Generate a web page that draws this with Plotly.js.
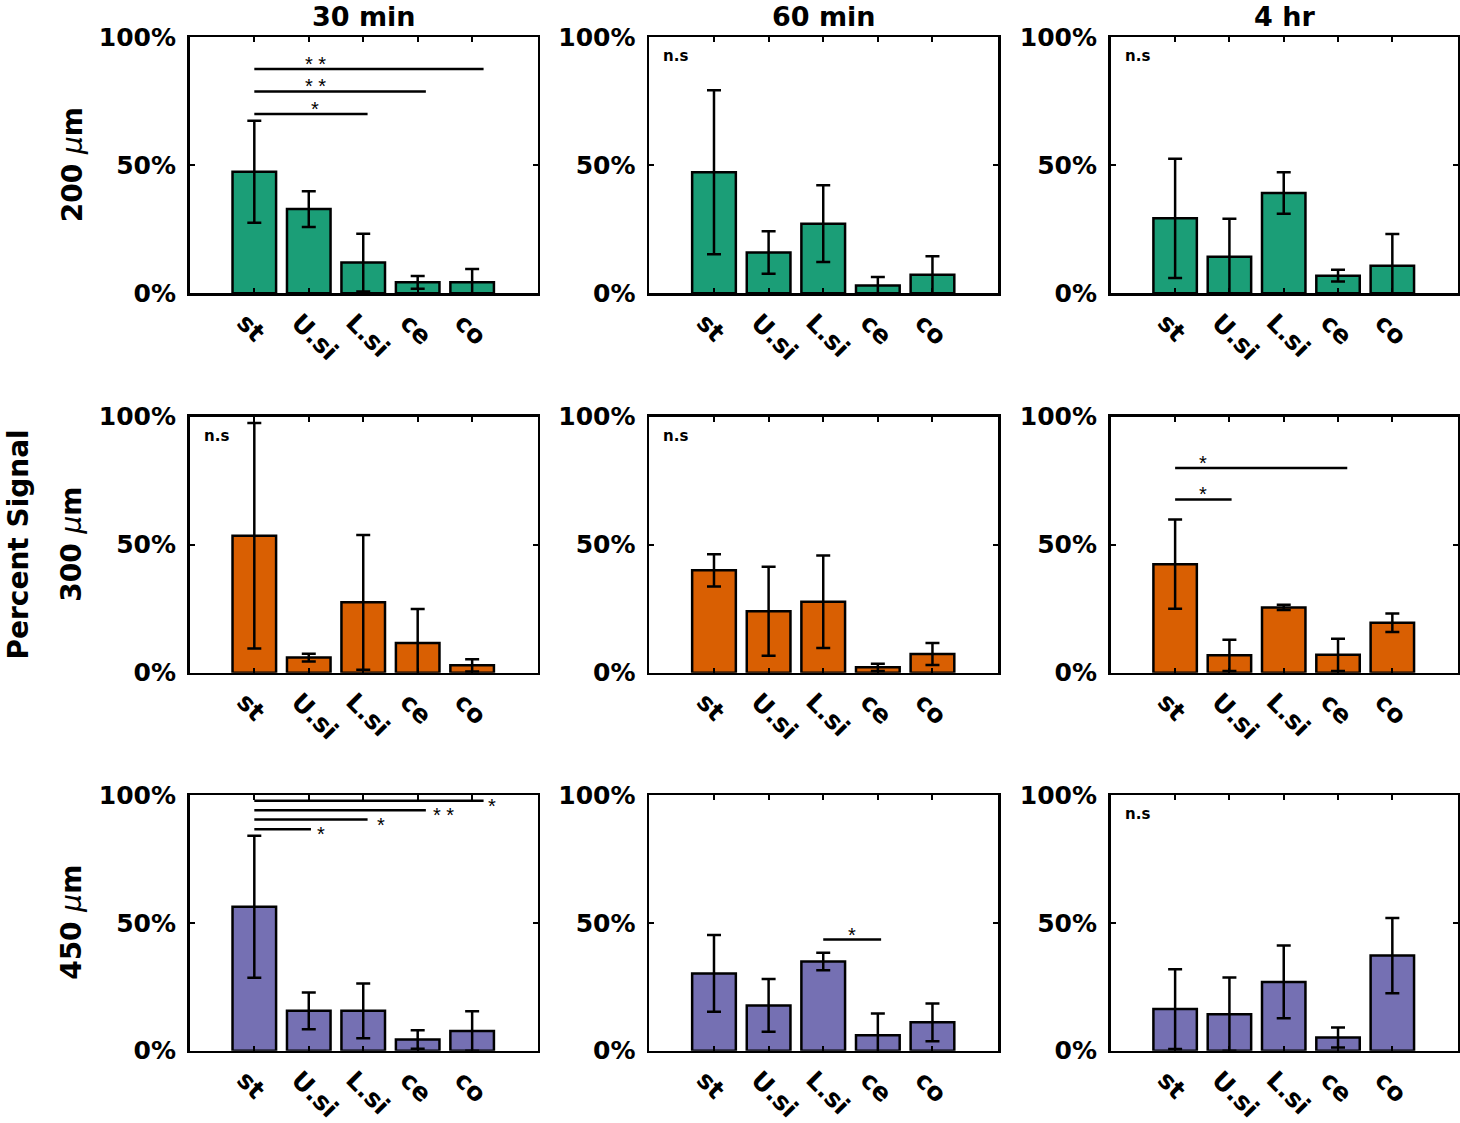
<!DOCTYPE html>
<html>
<head>
<meta charset="utf-8">
<script src="https://cdn.plot.ly/plotly-3.0.1.min.js"></script>
<style>html,body{margin:0;padding:0;background:#fff;}</style>
</head>
<body>
<div id="chart" style="width:1460px;height:1123px;"></div>
<script>
// ---------- data ----------
const categories = ['st', 'U.si', 'L.si', 'ce', 'co'];
const timeLabels = ['30 min', '60 min', '4 hr'];
const depthLabels = ['200', '300', '450'];
const yTickVals = [0, 50, 100];
const yTickText = ['0%', '50%', '100%'];

// 200 um
const mean_200_30 = [47.5, 32.9, 12.0, 4.3, 4.3];
const err_200_30  = [19.9, 7.0, 11.3, 2.5, 5.2];
const mean_200_60 = [47.3, 15.9, 27.2, 3.0, 7.2];
const err_200_60  = [32.0, 8.3, 15.0, 3.4, 7.3];
const mean_200_4h = [29.3, 14.3, 39.2, 6.9, 10.8];
const err_200_4h  = [23.3, 14.8, 8.1, 2.3, 12.4];
// 300 um
const mean_300_30 = [53.5, 5.9, 27.5, 11.6, 2.9];
const err_300_30  = [44.0, 1.5, 26.3, 13.3, 2.4];
const mean_300_60 = [40.0, 24.0, 27.7, 2.1, 7.3];
const err_300_60  = [6.3, 17.4, 18.1, 1.4, 4.3];
const mean_300_4h = [42.4, 6.8, 25.5, 7.0, 19.5];
const err_300_4h  = [17.4, 6.1, 1.0, 6.3, 3.6];
// 450 um
const mean_450_30 = [56.3, 15.6, 15.6, 4.4, 7.7];
const err_450_30  = [27.8, 7.2, 10.7, 3.6, 7.7];
const mean_450_60 = [30.2, 17.7, 34.9, 6.0, 11.1];
const err_450_60  = [15.0, 10.3, 3.4, 8.5, 7.4];
const mean_450_4h = [16.3, 14.3, 26.9, 5.2, 37.2];
const err_450_4h  = [15.6, 14.3, 14.2, 3.9, 14.7];

// significance brackets: [from category, to (end), level %, label, label x, label y]
const sig_200_30 = [[1, 5.21, 87.6, '* *', 2.12, 91.1], [1, 4.15, 78.8, '* *', 2.12, 82.4], [1, 3.08, 70.0, '*', 2.12, 73.6]];
const sig_300_4h = [[1, 4.17, 80.0, '*', 1.52, 83.3], [1, 2.04, 67.7, '*', 1.52, 71.5]];
const sig_450_30 = [[1, 5.21, 97.8, '*', 5.37, 97.4], [1, 4.15, 94.0, '* *', 4.47, 93.6], [1, 3.08, 90.4, '*', 3.33, 90.0], [1, 2.04, 86.6, '*', 2.22, 86.2]];
const sig_450_60 = [[3, 4.06, 43.5, '*', 3.52, 46.8]];

const panels = [
  {m: mean_200_30, e: err_200_30, sig: sig_200_30, ns: false},
  {m: mean_200_60, e: err_200_60, sig: [], ns: true},
  {m: mean_200_4h, e: err_200_4h, sig: [], ns: true},
  {m: mean_300_30, e: err_300_30, sig: [], ns: true},
  {m: mean_300_60, e: err_300_60, sig: [], ns: true},
  {m: mean_300_4h, e: err_300_4h, sig: sig_300_4h, ns: false},
  {m: mean_450_30, e: err_450_30, sig: sig_450_30, ns: false},
  {m: mean_450_60, e: err_450_60, sig: sig_450_60, ns: false},
  {m: mean_450_4h, e: err_450_4h, sig: [], ns: true}
];
const rowColors = ['#1b9e77', '#d95f02', '#7570b3'];

// ---------- layout ----------
const W = 1460, H = 1123;
const colPx = [[189.5, 537.5], [649, 998], [1110.5, 1457.5]];
const rowPx = [[37.3, 293.3], [416.7, 672.7], [795, 1050.7]];
const FONT = 'DejaVu Sans';

const data = [];
const layout = {
  width: W, height: H,
  margin: {l: 0, r: 0, t: 0, b: 0},
  paper_bgcolor: '#ffffff', plot_bgcolor: '#ffffff',
  showlegend: false,
  shapes: [], annotations: []
};

const xs = categories.map((c, i) => i + 1);

panels.forEach((p, idx) => {
  const r = Math.floor(idx / 3), c = idx % 3, n = idx + 1;
  const xa = 'xaxis' + (n === 1 ? '' : n), ya = 'yaxis' + (n === 1 ? '' : n);
  const xr = 'x' + (n === 1 ? '' : n), yr = 'y' + (n === 1 ? '' : n);
  data.push({
    type: 'bar', x: xs, y: p.m, xaxis: xr, yaxis: yr,
    width: 0.8,
    marker: {color: rowColors[r], line: {color: '#000', width: 2.5}},
    error_y: {type: 'data', array: p.e, visible: true, color: '#000', thickness: 2.5, width: 7},
    hoverinfo: 'skip'
  });
  layout[xa] = {
    domain: [colPx[c][0] / W, colPx[c][1] / W],
    anchor: yr, range: [-0.19, 6.2],
    tickvals: xs, ticktext: categories, tickangle: 45,
    ticklabelshift: -10, ticklabelstandoff: 2,
    ticks: 'inside', ticklen: 5, tickwidth: 2, tickcolor: '#000',
    mirror: 'allticks', showline: true, linecolor: '#000', linewidth: 2.5,
    showgrid: false, zeroline: false, fixedrange: true,
    tickfont: {family: FONT, size: 25, weight: 'bold', color: '#000'}
  };
  layout[ya] = {
    domain: [1 - rowPx[r][1] / H, 1 - rowPx[r][0] / H],
    anchor: xr, range: [0, 100],
    tickvals: yTickVals, ticktext: yTickText,
    ticks: 'inside', ticklen: 5, tickwidth: 2, tickcolor: '#000',
    mirror: 'allticks', showline: true, linecolor: '#000', linewidth: 2.5,
    showgrid: false, zeroline: false, fixedrange: true,
    ticklabelstandoff: 6,
    tickfont: {family: FONT, size: 25, weight: 'bold', color: '#000'}
  };
  if (p.ns) {
    layout.annotations.push({
      xref: xr + ' domain', yref: yr + ' domain', x: 0.035, y: 0.925,
      xanchor: 'left', yanchor: 'middle', showarrow: false, text: 'n.s',
      font: {family: FONT, size: 15, weight: 'bold', color: '#000'}
    });
  }
  p.sig.forEach(s => {
    layout.shapes.push({
      type: 'line', xref: xr, yref: yr, x0: s[0], x1: s[1], y0: s[2], y1: s[2],
      line: {color: '#000', width: 2.5}
    });
    layout.annotations.push({
      xref: xr, yref: yr, x: s[4], y: s[5], xanchor: 'center', yanchor: 'middle',
      showarrow: false, text: s[3], yshift: -4,
      font: {family: 'Liberation Sans', size: 20, color: '#000'}
    });
  });
});

// column titles
timeLabels.forEach((t, c) => {
  layout.annotations.push({
    xref: 'paper', yref: 'paper', x: (colPx[c][0] + colPx[c][1]) / 2 / W, y: 1,
    xanchor: 'center', yanchor: 'top', showarrow: false, text: t, borderpad: 0,
    font: {family: FONT, size: 27, weight: 'bold', color: '#000'}
  });
});
// row labels
depthLabels.forEach((d, r) => {
  layout.annotations.push({
    xref: 'paper', yref: 'paper', x: 72 / W, y: 1 - (rowPx[r][0] + rowPx[r][1]) / 2 / H,
    xanchor: 'center', yanchor: 'middle', showarrow: false, textangle: -90,
    text: d + ' <span style="font-weight:normal"><i>μ</i></span>m',
    font: {family: FONT, size: 28, weight: 'bold', color: '#000'}
  });
});
layout.annotations.push({
  xref: 'paper', yref: 'paper', x: 0, y: 1 - 545 / H,
  xanchor: 'left', yanchor: 'middle', showarrow: false, textangle: -90,
  text: 'Percent Signal', borderpad: 0,
  font: {family: FONT, size: 28, weight: 'bold', color: '#000'}
});

Plotly.newPlot('chart', data, layout, {displayModeBar: false, staticPlot: true});
</script>
</body>
</html>
